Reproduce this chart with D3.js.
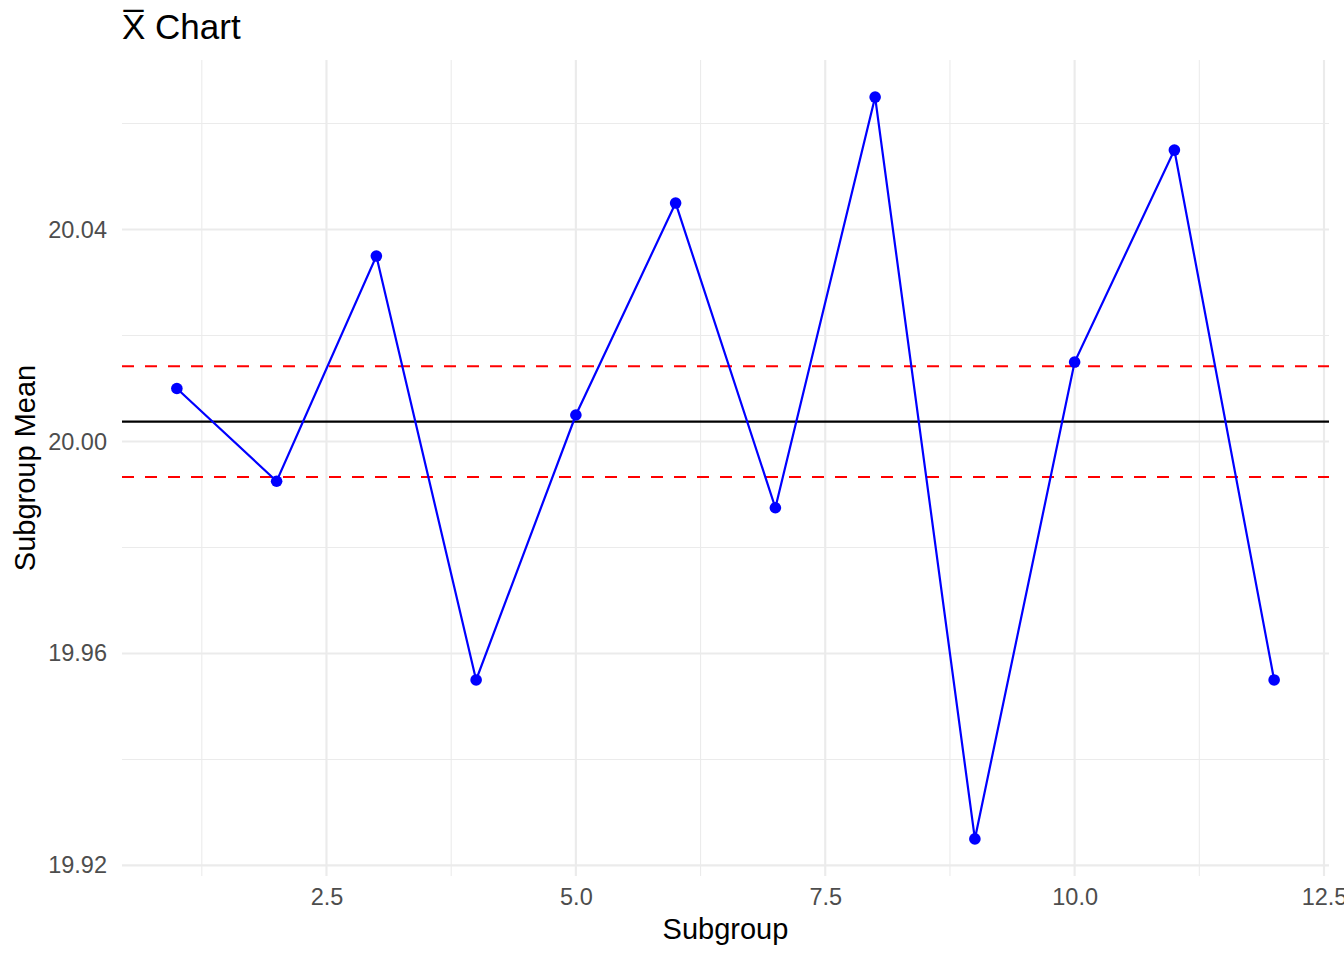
<!DOCTYPE html>
<html>
<head>
<meta charset="utf-8">
<script src="https://cdn.jsdelivr.net/npm/d3@7"></script>
<style>
  body { margin: 0; background: #fff; }
  svg text { font-family: "Liberation Sans", Arial, Helvetica, sans-serif; }
</style>
</head>
<body>
<div id="chart"></div>
<script>
// subgroup means
var subgroups = [1, 2, 3, 4, 5, 6, 7, 8, 9, 10, 11, 12];
var means = [20.010, 19.9925, 20.035, 19.955, 20.005, 20.045, 19.9875, 20.065, 19.925, 20.015, 20.055, 19.955];

// control limits
var centerLine = 20.00375;
var ucl = 20.0142;
var lcl = 19.9933;

// axis breaks
var xTicks = [2.5, 5.0, 7.5, 10.0, 12.5];
var xMinor = [1.25, 3.75, 6.25, 8.75, 11.25];
var yTicks = [19.92, 19.96, 20.00, 20.04];
var yMinor = [19.94, 19.98, 20.02, 20.06];

var svgWidth = 1344;
var svgHeight = 960;

var margin = { top: 60, bottom: 84, left: 122, right: 15 };
var width = svgWidth - margin.left - margin.right;
var height = svgHeight - margin.top - margin.bottom;

var svg = d3.select("#chart")
    .append("svg")
    .attr("width", svgWidth)
    .attr("height", svgHeight);

var chartGroup = svg.append("g")
    .attr("transform", `translate(${margin.left}, ${margin.top})`);

// scales (ggplot default expansion)
var xScale = d3.scaleLinear()
    .domain([0.45, 12.55])
    .range([0, width]);
var yScale = d3.scaleLinear()
    .domain([19.918, 20.072])
    .range([height, 0]);

// grid
chartGroup.selectAll("line.minorY")
    .data(yMinor).enter().append("line")
    .attr("x1", 0).attr("x2", width)
    .attr("y1", d => yScale(d)).attr("y2", d => yScale(d))
    .attr("stroke", "#EBEBEB").attr("stroke-width", 1.07);
chartGroup.selectAll("line.minorX")
    .data(xMinor).enter().append("line")
    .attr("y1", 0).attr("y2", height)
    .attr("x1", d => xScale(d)).attr("x2", d => xScale(d))
    .attr("stroke", "#EBEBEB").attr("stroke-width", 1.07);
chartGroup.selectAll("line.majorY")
    .data(yTicks).enter().append("line")
    .attr("x1", 0).attr("x2", width)
    .attr("y1", d => yScale(d)).attr("y2", d => yScale(d))
    .attr("stroke", "#EBEBEB").attr("stroke-width", 2.13);
chartGroup.selectAll("line.majorX")
    .data(xTicks).enter().append("line")
    .attr("y1", 0).attr("y2", height)
    .attr("x1", d => xScale(d)).attr("x2", d => xScale(d))
    .attr("stroke", "#EBEBEB").attr("stroke-width", 2.13);

// axes, labels only
var bottomAxis = d3.axisBottom(xScale)
    .tickValues(xTicks)
    .tickFormat(d3.format(".1f"))
    .tickSize(0)
    .tickPadding(12);
var leftAxis = d3.axisLeft(yScale)
    .tickValues(yTicks)
    .tickFormat(d3.format(".2f"))
    .tickSize(0)
    .tickPadding(15);

var xAxisG = chartGroup.append("g")
    .attr("transform", `translate(0,${height})`)
    .call(bottomAxis);
var yAxisG = chartGroup.append("g")
    .call(leftAxis);

[xAxisG, yAxisG].forEach(g => {
    g.select(".domain").remove();
    g.selectAll("text")
        .attr("fill", "#4D4D4D")
        .style("font-size", "23.5px")
        .style("font-family", "\"Liberation Sans\", Arial, Helvetica, sans-serif");
});

// control lines
chartGroup.append("line")
    .attr("x1", 0).attr("x2", width)
    .attr("y1", yScale(centerLine)).attr("y2", yScale(centerLine))
    .attr("stroke", "black").attr("stroke-width", 2.2);
chartGroup.selectAll("line.limit")
    .data([ucl, lcl]).enter().append("line")
    .attr("x1", 0).attr("x2", width)
    .attr("y1", d => yScale(d)).attr("y2", d => yScale(d))
    .attr("stroke", "red").attr("stroke-width", 2.2)
    .attr("stroke-dasharray", "12,11");

// series
var points = subgroups.map((s, i) => ({ x: s, y: means[i] }));
var line = d3.line()
    .x(d => xScale(d.x))
    .y(d => yScale(d.y));

chartGroup.append("path")
    .datum(points)
    .attr("fill", "none")
    .attr("stroke", "blue")
    .attr("stroke-width", 2.2)
    .attr("d", line);

chartGroup.selectAll("circle")
    .data(points)
    .enter()
    .append("circle")
    .attr("cx", d => xScale(d.x))
    .attr("cy", d => yScale(d.y))
    .attr("r", 5.8)
    .attr("fill", "blue");

// titles
svg.append("text")
    .attr("x", margin.left)
    .attr("y", 39)
    .style("font-size", "35px")
    .attr("fill", "black")
    .text("X\u0305 Chart");

svg.append("text")
    .attr("x", margin.left + width / 2)
    .attr("y", 939)
    .attr("text-anchor", "middle")
    .style("font-size", "29px")
    .attr("fill", "black")
    .text("Subgroup");

svg.append("text")
    .attr("transform", "rotate(-90)")
    .attr("x", -(margin.top + height / 2))
    .attr("y", 35)
    .attr("text-anchor", "middle")
    .style("font-size", "29px")
    .attr("fill", "black")
    .text("Subgroup Mean");
</script>
</body>
</html>
